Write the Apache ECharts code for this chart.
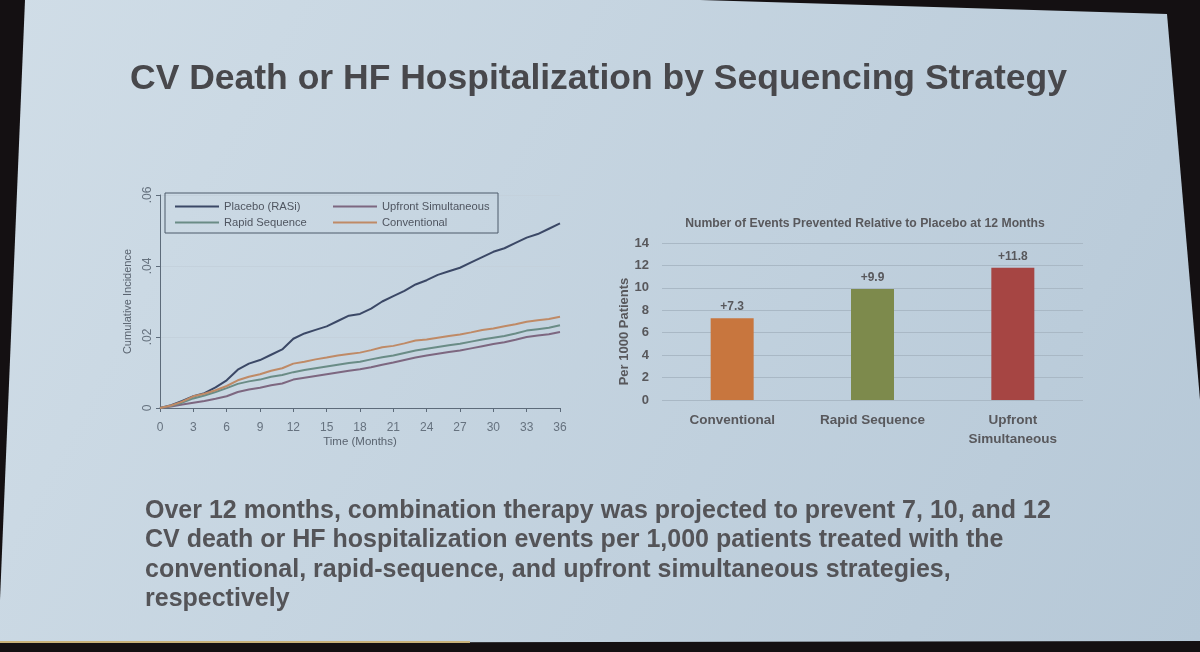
<!DOCTYPE html>
<html><head><meta charset="utf-8">
<script src="https://cdn.jsdelivr.net/npm/echarts@6/dist/echarts.min.js"></script>
<style>html,body{margin:0;padding:0;background:#141012;}#c{width:1200px;height:652px;}</style>
</head><body><div id="c"></div>
<script>
var months = [0,1,2,3,4,5,6,7,8,9,10,11,12,13,14,15,16,17,18,19,20,21,22,23,24,25,26,27,28,29,30,31,32,33,34,35,36];
var placebo = [0,0.0008,0.002,0.0033,0.0042,0.0058,0.0078,0.0108,0.0125,0.0135,0.015,0.0165,0.0195,0.021,0.022,0.023,0.0245,0.026,0.0265,0.028,0.03,0.0315,0.033,0.0348,0.036,0.0375,0.0385,0.0395,0.041,0.0425,0.044,0.045,0.0465,0.048,0.049,0.0505,0.052];
var conventional = [0,0.0007,0.0018,0.0033,0.004,0.005,0.0062,0.0078,0.0088,0.0095,0.0105,0.0112,0.0125,0.013,0.0137,0.0142,0.0148,0.0152,0.0156,0.0163,0.0171,0.0175,0.0182,0.019,0.0193,0.0198,0.0203,0.0207,0.0213,0.022,0.0224,0.023,0.0236,0.0243,0.0247,0.0251,0.0257];
var rapid = [0,0.0006,0.0015,0.0027,0.0035,0.0045,0.0056,0.0068,0.0075,0.008,0.0088,0.0093,0.0101,0.0107,0.0112,0.0117,0.0122,0.0127,0.013,0.0137,0.0143,0.0148,0.0155,0.0162,0.0167,0.0172,0.0177,0.0181,0.0187,0.0193,0.0198,0.0203,0.021,0.0218,0.0222,0.0226,0.0233];
var upfront = [0,0.0004,0.001,0.0015,0.002,0.0026,0.0033,0.0045,0.0052,0.0057,0.0064,0.0069,0.008,0.0085,0.009,0.0095,0.01,0.0105,0.0109,0.0115,0.0122,0.0128,0.0135,0.0142,0.0148,0.0153,0.0158,0.0162,0.0168,0.0174,0.018,0.0185,0.0192,0.02,0.0204,0.0208,0.0214];
var barCategories = ['Conventional','Rapid Sequence','Upfront\nSimultaneous'];
var barValues = [7.3, 9.9, 11.8];
var barLabels = ['+7.3','+9.9','+11.8'];
var yTickLabels = {0:'0', 0.02:'.02', 0.04:'.04', 0.06:'.06'};

function pairs(ys){ return months.map(function(m,i){ return [m, ys[i]]; }); }

var chart = echarts.init(document.getElementById('c'), null, {renderer:'canvas'});
var axisGray = '#5d6b7a';
var lineSeries = function(name, data, color){
  return {name:name, type:'line', xAxisIndex:0, yAxisIndex:0, data:pairs(data), showSymbol:false, symbol:'none',
    lineStyle:{color:color, width:2}, itemStyle:{color:color}, silent:true, z:3};
};
var option = {
  backgroundColor:'#141012',
  animation:false,
  graphic:[
    {type:'polygon', z:-10, shape:{points:[[25,0],[700,0],[1167,14],[1200,400],[1200,641],[0,643],[0,600]]},
      style:{fill:new echarts.graphic.LinearGradient(0,0,1,1,[{offset:0,color:'#d0dde7'},{offset:1,color:'#b6c8d7'}])}},
    {type:'rect', z:-9, shape:{x:0,y:641,width:470,height:2}, style:{fill:'#c9b27a'}},
    {type:'rect', z:5, shape:{x:165,y:193,width:333,height:40}, style:{fill:'rgba(0,0,0,0)', stroke:'#4d5b6a', lineWidth:1}}
  ],
  title:[
    {text:'CV Death or HF Hospitalization by Sequencing Strategy', left:125, top:56,
      textStyle:{fontFamily:'Liberation Sans', fontWeight:'bold', fontSize:35.5, color:'#48484c'}},
    {text:'Over 12 months, combination therapy was projected to prevent 7, 10, and 12\nCV death or HF hospitalization events per 1,000 patients treated with the\nconventional, rapid-sequence, and upfront simultaneous strategies,\nrespectively',
      left:140, top:491,
      textStyle:{fontFamily:'Liberation Sans', fontWeight:'bold', fontSize:25, lineHeight:29.5, color:'#545458'}},
    {text:'Number of Events Prevented Relative to Placebo at 12 Months', left:860, textAlign:'center', top:213,
      textStyle:{fontFamily:'Liberation Sans', fontWeight:'bold', fontSize:12.2, color:'#58585c'}}
  ],
  legend:[
    {data:['Placebo (RASi)','Rapid Sequence'], orient:'vertical', left:170, top:196, itemGap:5, itemWidth:44, itemHeight:2, icon:'rect',
      textStyle:{fontFamily:'Liberation Sans', fontSize:11.2, color:'#4f5560'}},
    {data:['Upfront Simultaneous','Conventional'], orient:'vertical', left:328, top:196, itemGap:5, itemWidth:44, itemHeight:2, icon:'rect',
      textStyle:{fontFamily:'Liberation Sans', fontSize:11.2, color:'#4f5560'}}
  ],
  grid:[
    {left:160, right:640, top:195, bottom:244},
    {left:662, right:117, top:243, bottom:252}
  ],
  xAxis:[
    {type:'value', gridIndex:0, min:0, max:36, interval:3, offset:8,
      name:'Time (Months)', nameLocation:'middle', nameGap:20,
      nameTextStyle:{fontFamily:'Liberation Sans', fontSize:11.5, color:'#5a6470'},
      axisLine:{show:true, lineStyle:{color:axisGray, width:1}},
      axisTick:{show:true, length:4, lineStyle:{color:axisGray}},
      axisLabel:{fontFamily:'Liberation Sans', fontSize:12, color:'#66727f', margin:6},
      splitLine:{show:false}},
    {type:'category', gridIndex:1, data:barCategories,
      axisLine:{show:false}, axisTick:{show:false},
      axisLabel:{fontFamily:'Liberation Sans', fontWeight:'bold', fontSize:13.5, color:'#58585c', margin:11, lineHeight:19}}
  ],
  yAxis:[
    {type:'value', gridIndex:0, min:0, max:0.06, interval:0.02,
      name:'Cumulative Incidence', nameLocation:'middle', nameGap:27,
      nameTextStyle:{fontFamily:'Liberation Sans', fontSize:11, color:'#5a6470'},
      axisLine:{show:true, lineStyle:{color:axisGray, width:1}},
      axisTick:{show:true, length:4, lineStyle:{color:axisGray}},
      axisLabel:{rotate:90, fontFamily:'Liberation Sans', fontSize:12, color:'#66727f', margin:6,
        formatter:function(v){ var k=Math.round(v*100)/100; return yTickLabels[k]!==undefined?yTickLabels[k]:''; }},
      splitLine:{show:true, lineStyle:{color:'#c4d1dc', width:1}}},
    {type:'value', gridIndex:1, min:0, max:14, interval:2,
      name:'Per 1000 Patients', nameLocation:'middle', nameGap:27,
      nameTextStyle:{fontFamily:'Liberation Sans', fontWeight:'bold', fontSize:13, color:'#58585c', padding:[0,20,0,0]},
      axisLine:{show:false}, axisTick:{show:false},
      axisLabel:{fontFamily:'Liberation Sans', fontWeight:'bold', fontSize:13, color:'#58585c', margin:13},
      splitLine:{show:true, lineStyle:{color:'#a9b8c5', width:1}}}
  ],
  series:[
    lineSeries('Placebo (RASi)', placebo, '#3b4866'),
    lineSeries('Upfront Simultaneous', upfront, '#7d6780'),
    lineSeries('Rapid Sequence', rapid, '#6a8c86'),
    lineSeries('Conventional', conventional, '#bf8a66'),
    {type:'bar', xAxisIndex:1, yAxisIndex:1, barWidth:43, silent:true,
      data:barValues.map(function(v,i){ return {value:v, itemStyle:{color:['#c8763e','#7d8a4c','#a64543'][i]}}; }),
      label:{show:true, position:'top', distance:5, fontFamily:'Liberation Sans', fontWeight:'bold', fontSize:12, color:'#58585c',
        formatter:function(p){ return barLabels[p.dataIndex]; }}}
  ]
};
chart.setOption(option);
</script></body></html>
